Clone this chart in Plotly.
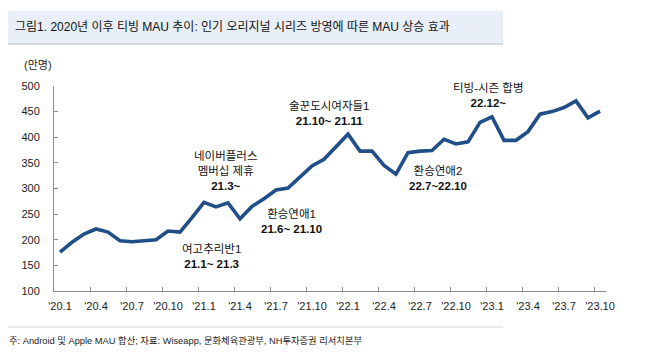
import plotly.graph_objects as go

months = ["20.1", "20.2", "20.3", "20.4", "20.5", "20.6", "20.7", "20.8", "20.9", "20.10", "20.11", "20.12",
          "21.1", "21.2", "21.3", "21.4", "21.5", "21.6", "21.7", "21.8", "21.9", "21.10", "21.11", "21.12",
          "22.1", "22.2", "22.3", "22.4", "22.5", "22.6", "22.7", "22.8", "22.9", "22.10", "22.11", "22.12",
          "23.1", "23.2", "23.3", "23.4", "23.5", "23.6", "23.7", "23.8", "23.9", "23.10"]
mau = [176, 195, 211, 221, 215, 198, 196, 198, 200, 217, 215, 243,
       273, 264, 272, 241, 265, 280, 297, 301, 323, 344, 357, 381,
       406, 373, 373, 345, 328, 370, 373, 374, 396, 387, 391, 429,
       440, 394, 394, 411, 445, 450, 458, 471, 438, 451]
tick_months = ["20.1", "20.4", "20.7", "20.10", "21.1", "21.4", "21.7", "21.10",
               "22.1", "22.4", "22.7", "22.10", "23.1", "23.4", "23.7", "23.10"]
tick_labels = ["'20.1", "'20.4", "'20.7", "'20.10", "'21.1", "'21.4", "'21.7", "'21.10",
               "'22.1", "'22.4", "'22.7", "'22.10", "'23.1", "'23.4", "'23.7", "'23.10"]
y_ticks = [100, 150, 200, 250, 300, 350, 400, 450, 500]

# event labels: text, x position (month index), y position (value)
events = [
    ("여고추리반1<br><b>21.1~ 21.3</b>", 12.6, 167),
    ("네이버플러스<br>멤버십 제휴<br><b>21.3~</b>", 13.75, 334.5),
    ("환승연애1<br><b>21.6~ 21.10</b>", 19.25, 234.8),
    ("술꾼도시여자들1<br><b>21.10~ 21.11</b>", 22.4, 445.9),
    ("환승연애2<br><b>22.7~22.10</b>", 31.5, 318.9),
    ("티빙-시즌 합병<br><b>22.12~</b>", 35.67, 482.4),
]

title_text = "그림1. 2020년 이후 티빙 MAU 추이: 인기 오리지널 시리즈 방영에 따른 MAU 상승 효과"
footer_text = "주: Android 및 Apple MAU 합산; 자료: Wiseapp, 문화체육관광부, NH투자증권 리서치본부"
unit_text = "(만명)"

W, H = 649, 357
ML, MR, MT, MB = 54, 43, 86, 66
PW, PH = W - ML - MR, H - MT - MB

def px(x):
    return (x - ML) / PW

def py(y):
    return (H - MB - y) / PH

FONT = "Liberation Sans, Arial, Noto Sans CJK KR, sans-serif"
LINE = "#1f4e89"

xs = list(range(len(months)))
fig = go.Figure()
fig.add_trace(go.Scatter(x=xs, y=mau, mode="lines",
                         line=dict(color=LINE, width=3.6),
                         hoverinfo="skip", showlegend=False))

tickvals = [months.index(m) for m in tick_months]
minor_vals = [v - 0.5 for v in tickvals if v > 0]

fig.update_layout(
    width=W, height=H, autosize=False,
    margin=dict(l=ML, r=MR, t=MT, b=MB, pad=0),
    paper_bgcolor="white", plot_bgcolor="white",
    font=dict(family=FONT, color="#222", size=11),
    showlegend=False,
    xaxis=dict(range=[-0.5, len(months) - 0.5], tickmode="array",
               tickvals=tickvals, ticktext=tick_labels, ticks="",
               showgrid=False, zeroline=False, showline=True,
               linecolor="#8c8c8c", linewidth=1,
               tickfont=dict(size=11, color="#222"), ticklabelstandoff=5,
               minor=dict(tickmode="array", tickvals=minor_vals, ticks="inside",
                          ticklen=4, tickcolor="#8c8c8c", showgrid=False)),
    yaxis=dict(range=[100, 500], tickmode="array", tickvals=y_ticks,
               ticks="inside", ticklen=4, tickcolor="#8c8c8c",
               showgrid=False, zeroline=False, showline=True,
               linecolor="#8c8c8c", linewidth=1,
               tickfont=dict(size=11, color="#222"), ticklabelstandoff=11),
)

shapes = [
    dict(type="rect", xref="paper", yref="paper",
         x0=px(8), x1=px(503), y0=py(44), y1=py(10.5),
         fillcolor="#e9eff8", line=dict(width=0), layer="below"),
    dict(type="line", xref="paper", yref="paper",
         x0=px(8), x1=px(503), y0=py(44), y1=py(44),
         line=dict(color="#d9d9d9", width=2)),
    dict(type="line", xref="paper", yref="paper",
         x0=px(8), x1=px(503), y0=py(327), y1=py(327),
         line=dict(color="#d4d4d4", width=1)),
]
fig.update_layout(shapes=shapes)

annotations = [
    dict(text=title_text, xref="paper", yref="paper", x=px(13), y=py(27.5),
         xanchor="left", yanchor="middle", showarrow=False,
         font=dict(size=12, color="#111", family=FONT)),
    dict(text=footer_text, xref="paper", yref="paper", x=px(7), y=py(340),
         xanchor="left", yanchor="middle", showarrow=False,
         font=dict(size=9.3, color="#222", family=FONT)),
    dict(text=unit_text, xref="paper", yref="paper", x=px(37.5), y=py(65),
         xanchor="center", yanchor="middle", showarrow=False,
         font=dict(size=11, color="#222", family=FONT)),
]
for txt, ex, ey in events:
    annotations.append(dict(text=txt, xref="x", yref="y", x=ex, y=ey,
                            xanchor="center", yanchor="middle", showarrow=False,
                            align="center",
                            font=dict(size=11.5, color="#111", family=FONT)))
fig.update_layout(annotations=annotations)

fig.write_html("out.html", config={"displayModeBar": False},
               post_script="document.body.style.margin='0';document.body.style.padding='0';document.body.style.overflow='hidden';")
